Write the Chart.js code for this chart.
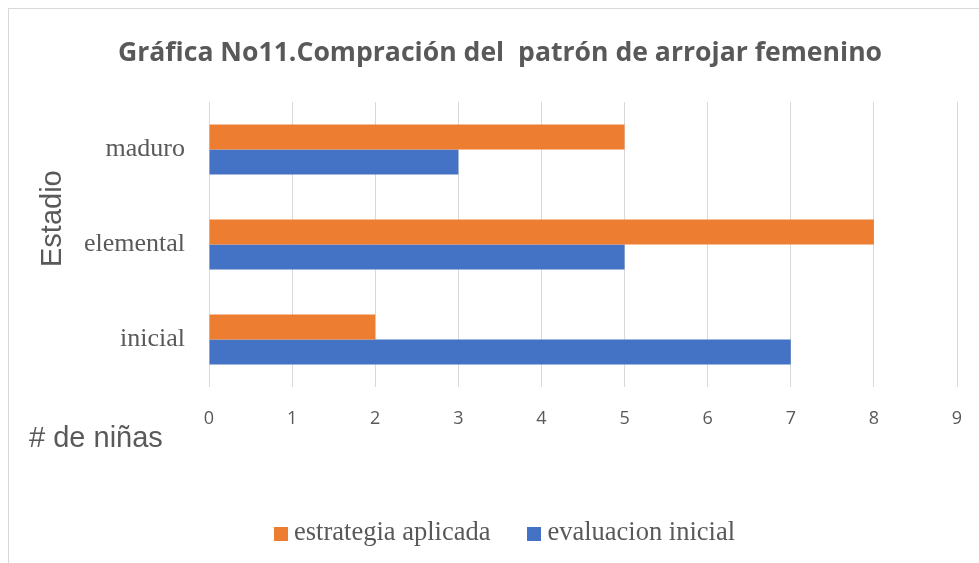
<!DOCTYPE html>
<html>
<head>
<meta charset="utf-8">
<script src="https://cdn.jsdelivr.net/npm/chart.js@4.4.1/dist/chart.umd.min.js"></script>
<style>
  body { margin: 0; background: #fff; }
  #wrap { position: relative; width: 979px; height: 563px; overflow: hidden; }
  #frame { position: absolute; left: 8px; top: 8px; width: 1100px; height: 700px; border: 1px solid #d9d9d9; }
  #chart { position: absolute; left: 0; top: 0; }
  #legend { position: absolute; left: 274px; top: 516px; display: flex; align-items: center;
            font-family: "Liberation Serif", serif; font-size: 26.5px; color: #595959; white-space: nowrap; }
  .item { display: flex; align-items: center; margin-right: 37px; }
  .box { width: 14px; height: 14px; margin-right: 6px; margin-top: 4px; }
</style>
</head>
<body>
<div id="wrap">
  <div id="frame"></div>
  <canvas id="chart" width="979" height="563"></canvas>
  <div id="legend"></div>
</div>
<script>
// data
const stages = ["maduro", "elemental", "inicial"];
const estrategiaAplicada = [5, 8, 2];
const evaluacionInicial = [3, 5, 7];
const seriesNames = ["estrategia aplicada", "evaluacion inicial"];
const seriesColors = ["#ED7D31", "#4472C4"];
const xMin = 0;
const xMax = 9;

const chartTitle = "Gráfica No11.Compración del  patrón de arrojar femenino";
const xTitle = "# de niñas";
const yTitle = "Estadio";

const textColor = "#595959";

// title + axis titles sit at odd spots in the original, draw them by hand
const extraText = {
  id: "extraText",
  afterDraw(chart) {
    const ctx = chart.ctx;
    ctx.save();
    ctx.fillStyle = textColor;
    ctx.textBaseline = "alphabetic";

    ctx.font = 'bold 26.6px "Open Sans", sans-serif';
    ctx.textAlign = "center";
    ctx.fillText(chartTitle, 500, 61);

    ctx.font = '29px "Liberation Sans", sans-serif';
    ctx.textAlign = "left";
    ctx.fillText(xTitle, 29, 447);

    ctx.translate(61, 267);
    ctx.rotate(-Math.PI / 2);
    ctx.fillText(yTitle, 0, 0);
    ctx.restore();
  }
};

const ctx = document.getElementById("chart");
const chart = new Chart(ctx, {
  type: "bar",
  data: {
    labels: stages,
    datasets: [
      {
        label: seriesNames[0],
        data: estrategiaAplicada,
        backgroundColor: seriesColors[0],
      },
      {
        label: seriesNames[1],
        data: evaluacionInicial,
        backgroundColor: seriesColors[1],
      }
    ]
  },
  options: {
    indexAxis: "y",
    responsive: false,
    animation: false,
    devicePixelRatio: 1,
    layout: { padding: { top: 102, right: 22, left: 0, bottom: 0 } },
    datasets: {
      bar: { categoryPercentage: 0.526, barPercentage: 1 }
    },
    plugins: {
      legend: { display: false },
      title: { display: false },
      tooltip: { enabled: false }
    },
    scales: {
      x: {
        min: xMin,
        max: xMax,
        afterFit: (scale) => {
          scale.height = 176;
          scale.paddingLeft = 0;
          scale.paddingRight = 0;
        },
        border: { display: false },
        grid: { color: "#d9d9d9", lineWidth: 1, drawTicks: false },
        ticks: {
          stepSize: 1,
          padding: 21,
          color: textColor,
          font: { family: '"Open Sans", sans-serif', size: 18 }
        }
      },
      y: {
        afterFit: (scale) => { scale.width = 209; },
        border: { display: false },
        grid: { display: false, drawTicks: false },
        ticks: {
          padding: 24,
          color: textColor,
          font: { family: '"Liberation Serif", serif', size: 26 }
        }
      }
    }
  },
  plugins: [extraText]
});

// legend as html so the box/text spacing matches
const legendEl = document.getElementById("legend");
chart.data.datasets.forEach((ds) => {
  const item = document.createElement("span");
  item.className = "item";
  item.innerHTML = `<span class="box" style="background:${ds.backgroundColor}"></span><span>${ds.label}</span>`;
  legendEl.appendChild(item);
});
</script>
</body>
</html>
